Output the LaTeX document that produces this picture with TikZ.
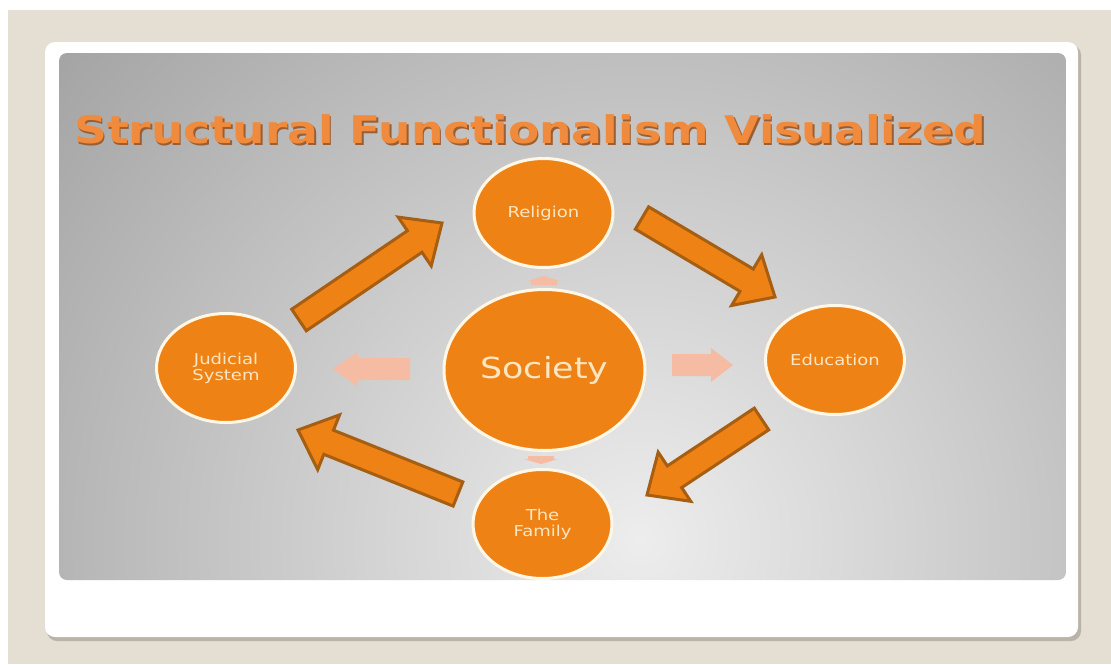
\documentclass[tikz,border=0pt]{standalone}
\usepackage{fontspec}
\setmainfont{DejaVu Sans}
\usetikzlibrary{calc,shapes.geometric}
\definecolor{beige}{HTML}{E4DED3}
\definecolor{cardsh}{HTML}{B9B3A8}
\definecolor{orng}{HTML}{EF8214}
\definecolor{orngdk}{HTML}{A65E12}
\definecolor{cream}{HTML}{FFF7E6}
\definecolor{txtc}{HTML}{FBE6C4}
\definecolor{pinkc}{HTML}{F6BBA3}
\definecolor{titlec}{HTML}{F08A3C}
\definecolor{titlesh}{HTML}{9A5E34}
\definecolor{pl}{HTML}{EDEDED}
\definecolor{pd}{HTML}{A4A4A4}
\newcommand\wx[1]{\scalebox{1.2}[1]{#1}}
% #1 style, #2 tail, #3 tip, #4 shaft half width, #5 head half width, #6 head length
\newcommand\fatarrow[6]{%
  \coordinate (#2h) at ($(#3)!#6!(#2)$);
  \path[#1] ($(#2)!#4!90:(#3)$) -- ($(#2h)!#4!90:(#3)$) -- ($(#2h)!#5!90:(#3)$) -- (#3)
    -- ($(#2h)!#5!-90:(#3)$) -- ($(#2h)!#4!-90:(#3)$) -- ($(#2)!#4!-90:(#3)$) -- cycle;}
\tikzset{
  circ/.style={ellipse, fill=orng, draw=cream, line width=3pt, text=txtc, align=center,
    inner sep=0pt, minimum width=139pt, minimum height=109pt, font=\fontsize{15}{17}\selectfont},
  bigarr/.style={fill=orng, draw=orngdk, line width=3pt, line join=miter},
  pinkarr/.style={fill=pinkc},
  ttl/.style={anchor=base west, inner sep=0pt, font=\bfseries\fontsize{38}{40}\selectfont}
}
\begin{document}
\begin{tikzpicture}[x=1pt,y=-1pt]
\useasboundingbox (0,0) rectangle (1111,664);
\fill[white] (0,0) rectangle (1111,664);
\fill[beige] (8,10) rectangle (1111,664);
% card
\fill[cardsh, rounded corners=10pt] (47,45) rectangle (1081,641);
\fill[white, rounded corners=10pt] (45,42) rectangle (1078,637);
% panel
\begin{scope}
  \clip[rounded corners=8pt] (59,53) rectangle (1066,580);
  \shade[inner color=pl, outer color=pd] (640,540) circle (760);
\end{scope}
% title
\node[ttl, text=titlesh] (titleshadow) at (75.5,145.5) {\wx{Structural Functionalism Visualized}};
\node[ttl, text=titlec] (title) at (74,143.5) {\wx{Structural Functionalism Visualized}};
% pink arrows (Society outward)
\coordinate (pLt) at (410,369); \coordinate (pLp) at (333,369);
\coordinate (pRt) at (672,365); \coordinate (pRp) at (733,365);
\coordinate (pUt) at (544,285); \coordinate (pUp) at (544,276);
\coordinate (pDt) at (541,456); \coordinate (pDp) at (541,464);
\fatarrow{pinkarr}{pLt}{pLp}{11pt}{17pt}{24pt}
\fatarrow{pinkarr}{pRt}{pRp}{11pt}{17pt}{22pt}
\fatarrow{pinkarr}{pUt}{pUp}{13pt}{16pt}{5pt}
\fatarrow{pinkarr}{pDt}{pDp}{13pt}{17pt}{5pt}
% circles
\node[circ] (rel) at (543.5,213) {\wx{Religion}};
\node[circ] (edu) at (835,360) {\wx{Education}};
\node[circ] (fam) at (542.5,524) {\wx{The}\\[-1pt]\wx{Family}};
\node[circ] (jud) at (226,368) {\wx{Judicial}\\[-1pt]\wx{System}};
\node[circ, minimum width=201pt, minimum height=161pt, font=\fontsize{29}{31}\selectfont] (soc) at (544.5,370) {\wx{Society}};
% big cycle arrows
\coordinate (aT) at (299,320); \coordinate (aP) at (442,223);
\coordinate (bT) at (642,218); \coordinate (bP) at (775,297);
\coordinate (cT) at (761.5,419); \coordinate (cP) at (647,495);
\coordinate (dT) at (458,494); \coordinate (dP) at (298,430);
\fatarrow{bigarr}{aT}{aP}{13pt}{29.5pt}{33pt}
\fatarrow{bigarr}{bT}{bP}{13pt}{29.5pt}{33pt}
\fatarrow{bigarr}{cT}{cP}{13pt}{29.5pt}{33pt}
\fatarrow{bigarr}{dT}{dP}{13pt}{29.5pt}{33pt}
\end{tikzpicture}
\end{document}
